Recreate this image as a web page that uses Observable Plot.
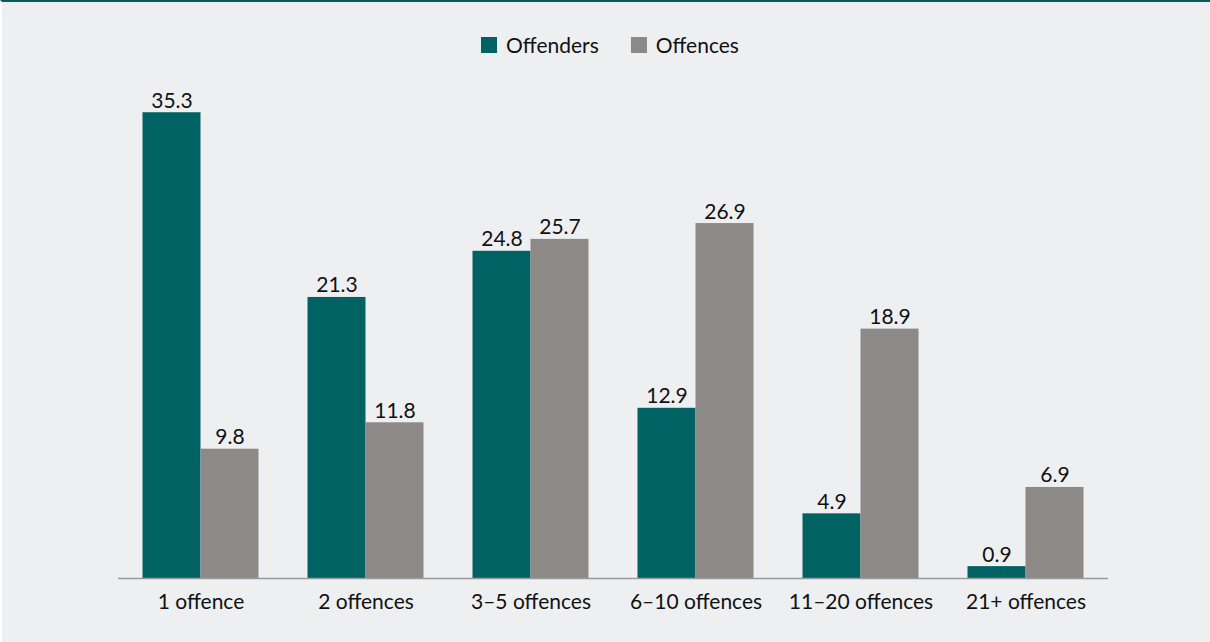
<!DOCTYPE html>
<html>
<head>
<meta charset="utf-8">
<script src="https://cdn.jsdelivr.net/npm/d3@7"></script>
<script src="https://cdn.jsdelivr.net/npm/@observablehq/plot@0.6"></script>
<style>
  html, body { margin: 0; padding: 0; }
  body { width: 1210px; height: 642px; background: #eeeff1; font-family: Lato, "Open Sans", sans-serif; overflow: hidden; box-sizing: border-box; border-top: 2px solid #0b5a5e; border-left: 2px solid #ffffff; }
  #legend { height: 68px; padding-top: 17px; display: flex; justify-content: center; align-items: center; font-size: 21px; color: #111; padding-left: 8px; box-sizing: border-box; }
  .item { display: flex; align-items: center; margin: 0 16px; }
  .sw { width: 16px; height: 16px; margin-right: 9px; display: inline-block; }
  svg { display: block; }
</style>
</head>
<body>
<div id="legend"></div>
<div id="chart"></div>
<script>
const categories = ["1 offence", "2 offences", "3\u20135 offences", "6\u201310 offences", "11\u201320 offences", "21+ offences"];
const seriesNames = ["Offenders", "Offences"];
const offenders = [35.3, 21.3, 24.8, 12.9, 4.9, 0.9];
const offences = [9.8, 11.8, 25.7, 26.9, 18.9, 6.9];
const colors = ["#016264", "#8c8987"];

const legend = document.getElementById("legend");
seriesNames.forEach((s, i) => {
  const d = document.createElement("div");
  d.className = "item";
  d.innerHTML = `<span class="sw" style="background:${colors[i]}"></span><span>${s}</span>`;
  legend.appendChild(d);
});

const offData = categories.map((c, i) => ({category: c, value: offenders[i]}));
const ofcData = categories.map((c, i) => ({category: c, value: offences[i]}));

const W = 1208;
const barW = 58;
const step = 165;
const inset = (step - barW) / 2;

const chart = Plot.plot({
  width: W,
  height: 572,
  marginLeft: 116,
  marginRight: W - 116 - 6 * step,
  marginTop: 33,
  marginBottom: 64,
  style: {background: "transparent", fontFamily: "Lato, 'Open Sans', sans-serif", fontSize: "21px", color: "#111"},
  x: {domain: categories, padding: 0, label: null},
  y: {domain: [0, 36], axis: null},
  marks: [
    Plot.barY(offData, {x: "category", y: "value", fill: colors[0], insetLeft: inset, insetRight: inset, dx: -barW / 2}),
    Plot.barY(ofcData, {x: "category", y: "value", fill: colors[1], insetLeft: inset, insetRight: inset, dx: barW / 2}),
    Plot.text(offData, {x: "category", y: "value", text: d => d.value.toFixed(1), dx: -barW / 2, dy: -5, lineAnchor: "bottom", fill: "#111", fontSize: 21}),
    Plot.text(ofcData, {x: "category", y: "value", text: d => d.value.toFixed(1), dx: barW / 2, dy: -5, lineAnchor: "bottom", fill: "#111", fontSize: 21}),
    Plot.ruleY([0], {stroke: "#9a9a9a", strokeWidth: 1.5}),
    Plot.axisX({tickSize: 0, tickPadding: 16, fontSize: 21, fill: "#111"})
  ]
});
document.getElementById("chart").appendChild(chart);
</script>
</body>
</html>
